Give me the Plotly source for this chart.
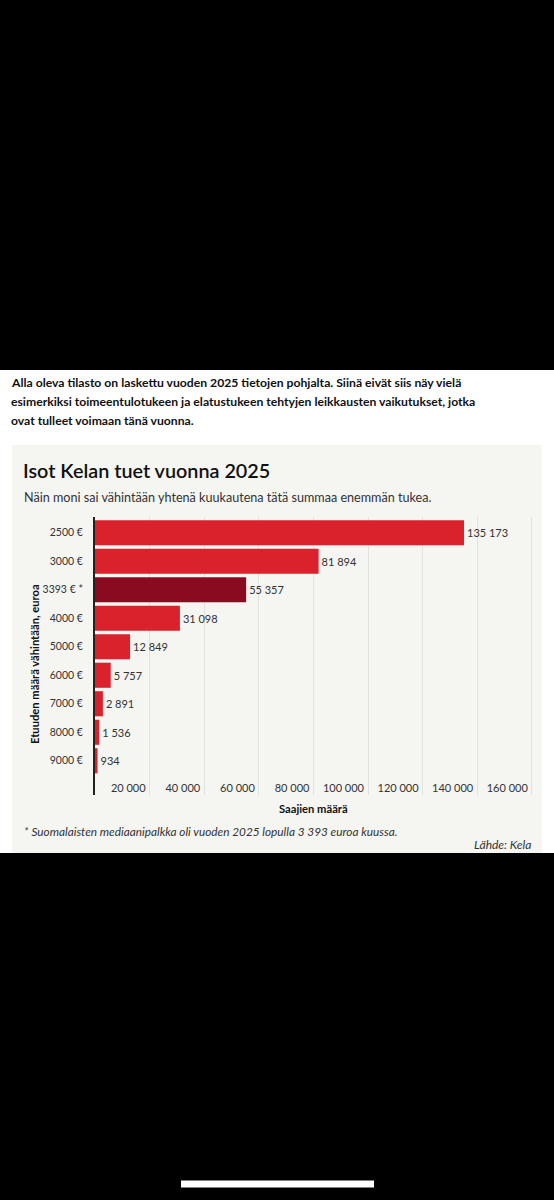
import plotly.graph_objects as go

W = 554
H = 1200

# Data
categories = ["2500 €", "3000 €", "3393 € *", "4000 €", "5000 €",
              "6000 €", "7000 €", "8000 €", "9000 €"]
recipients = [135173, 81894, 55357, 31098, 12849, 5757, 2891, 1536, 934]
highlight = "3393 € *"
x_ticks = [20000, 40000, 60000, 80000, 100000, 120000, 140000, 160000]

intro_lines = [
    "Alla oleva tilasto on laskettu vuoden 2025 tietojen pohjalta. Siinä eivät siis näy vielä",
    "esimerkiksi toimeentulotukeen ja elatustukeen tehtyjen leikkausten vaikutukset, jotka",
    "ovat tulleet voimaan tänä vuonna.",
]
title = "Isot Kelan tuet vuonna 2025"
subtitle = "Näin moni sai vähintään yhtenä kuukautena tätä summaa enemmän tukea."
footnote = "* Suomalaisten mediaanipalkka oli vuoden 2025 lopulla 3 393 euroa kuussa."
source = "Lähde: Kela"

RED = "#d9222b"
DARK = "#8a0a20"
FONT = "Lato"


def px_x(x):
    return x / W


def px_y(y):
    return 1 - y / H


colors = [DARK if c == highlight else RED for c in categories]

fig = go.Figure()
fig.add_trace(go.Bar(
    x=recipients,
    y=categories,
    orientation="h",
    marker=dict(color=colors, line=dict(width=0)),
    texttemplate="%{x:,d}",
    textposition="outside",
    textfont=dict(size=11, color="#333333", family=FONT),
    cliponaxis=False,
    hoverinfo="skip",
))

shapes = [
    # white page strip
    dict(type="rect", xref="paper", yref="paper", x0=0, x1=1,
         y0=px_y(853), y1=px_y(370), fillcolor="white", line_width=0, layer="below"),
    # chart panel
    dict(type="rect", xref="paper", yref="paper", x0=px_x(12), x1=px_x(542),
         y0=px_y(853), y1=px_y(445), fillcolor="#f5f5f1", line_width=0, layer="below"),
    # home indicator
    dict(type="line", xref="paper", yref="paper", x0=px_x(181), x1=px_x(374),
         y0=px_y(1184), y1=px_y(1184), line=dict(color="white", width=7)),
]

annotations = []
for i, line in enumerate(intro_lines):
    annotations.append(dict(
        text="<b>" + line + "</b>", xref="paper", yref="paper",
        x=px_x(9), y=px_y(382 + i * 19), xanchor="left", yanchor="middle",
        showarrow=False, font=dict(size=12.2, color="#111111", family=FONT)))

annotations += [
    dict(text=title, xref="paper", yref="paper", x=px_x(21), y=px_y(470),
         xanchor="left", yanchor="middle", showarrow=False,
         font=dict(size=19.8, color="#111111", family=FONT, weight=600)),
    dict(text=subtitle, xref="paper", yref="paper", x=px_x(22), y=px_y(497),
         xanchor="left", yanchor="middle", showarrow=False,
         font=dict(size=12.6, color="#333333", family=FONT)),
    dict(text="<b>Etuuden määrä vähintään, euroa</b>", xref="paper", yref="paper",
         x=px_x(34), y=px_y(664), xanchor="center", yanchor="middle",
         textangle=-90, showarrow=False,
         font=dict(size=11.2, color="#111111", family=FONT)),
    dict(text="<b>Saajien määrä</b>", xref="paper", yref="paper",
         x=px_x(313), y=px_y(808), xanchor="center", yanchor="middle",
         showarrow=False, font=dict(size=11.2, color="#111111", family=FONT)),
    dict(text="<i>" + footnote + "</i>", xref="paper", yref="paper",
         x=px_x(22), y=px_y(831), xanchor="left", yanchor="middle",
         showarrow=False, font=dict(size=11.8, color="#333333", family=FONT)),
    dict(text="<i>" + source + "</i>", xref="paper", yref="paper",
         x=px_x(533), y=px_y(844), xanchor="right", yanchor="middle",
         showarrow=False, font=dict(size=12, color="#333333", family=FONT)),
]

fig.update_layout(
    width=W,
    height=H,
    margin=dict(l=0, r=0, t=0, b=0),
    paper_bgcolor="black",
    plot_bgcolor="rgba(0,0,0,0)",
    separators=", ",
    bargap=0.12,
    showlegend=False,
    shapes=shapes,
    annotations=annotations,
    font=dict(family=FONT, color="#333333"),
    xaxis=dict(
        domain=[px_x(95), px_x(540)],
        range=[0, 163000],
        tickvals=x_ticks,
        tickformat=",d",
        ticklabelposition="inside left",
        ticklabelstandoff=-5,
        ticklabelshift=-4,
        tickfont=dict(size=11, color="#333333"),
        showgrid=True,
        gridcolor="#e2e2dd",
        gridwidth=1,
        zeroline=False,
        showline=False,
        fixedrange=True,
    ),
    yaxis=dict(
        domain=[px_y(795), px_y(517)],
        range=[9.2, -0.55],
        categoryorder="array",
        categoryarray=categories,
        tickfont=dict(size=10.5, color="#333333"),
        ticks="",
        ticklabelstandoff=8,
        showline=True,
        linecolor="#222222",
        linewidth=2,
        showgrid=False,
        fixedrange=True,
    ),
)

# the page itself has a default body margin; drop it so the figure fills the window
fig.write_html("out.html",
               config={"displayModeBar": False},
               post_script="document.body.style.margin='0';document.body.style.background='black';")
